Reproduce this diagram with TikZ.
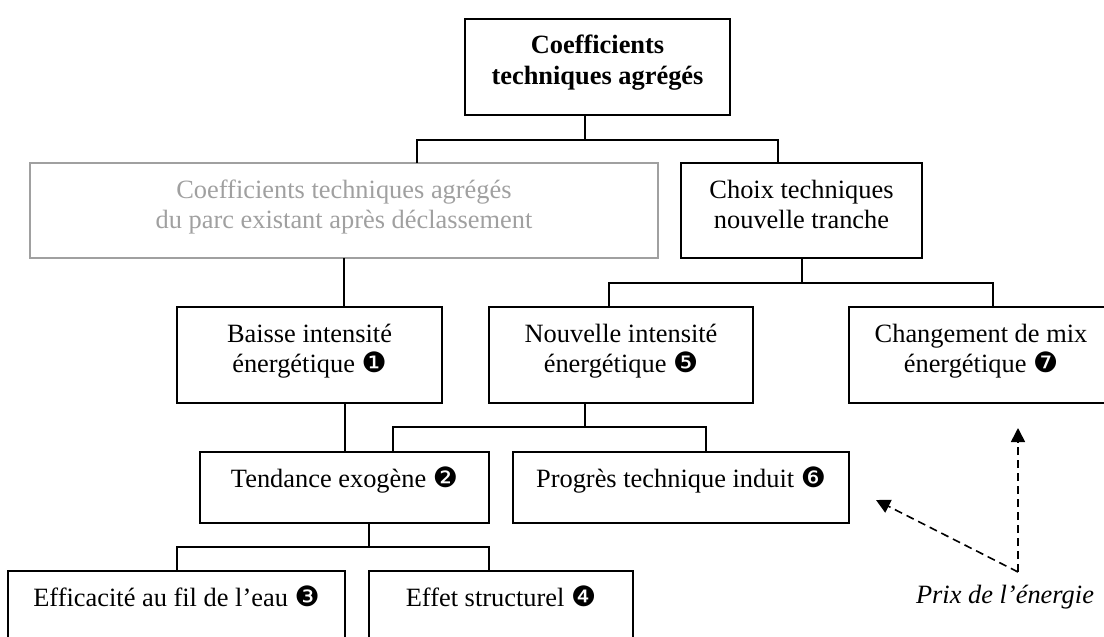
\documentclass[tikz,border=0pt]{standalone}
\usepackage{fontspec}
\setmainfont{Liberation Serif}
\newfontfamily\dingfont{DejaVu Sans}
\usetikzlibrary{fit,calc,arrows.meta}

\definecolor{parcgray}{RGB}{160,160,160}

\newcommand{\txtsize}{\fontsize{13.2}{15.2}\selectfont}
\newcommand{\nb}[1]{{\dingfont\fontsize{14}{14}\selectfont #1}}
\newcommand{\twolines}[2]{\begin{tabular}[t]{@{}c@{}}#1\\#2\end{tabular}}

\tikzset{
  box/.style={draw, line width=1pt, inner sep=0pt, outer sep=0pt},
  oldbox/.style={box, draw=parcgray},
  txt/.style={anchor=base, inner sep=0pt, yshift=-17.5pt, font=\txtsize},
  link/.style={line width=1pt},
  price/.style={line width=0.8pt, dash pattern=on 4pt off 2.5pt, -{Triangle[length=7pt,width=7pt]}}
}

\begin{document}
\begin{tikzpicture}[x=0.5pt, y=-0.5pt]
  \clip (0,0) rectangle (1104,637);

  % boxes
  \node[box, fit={(465,19) (730,115)}] (top) {};
  \node[oldbox, fit={(30,163) (658,258)}] (gray) {};
  \node[box, fit={(681,163) (922,258)}] (choix) {};
  \node[box, fit={(177,307) (442,403)}] (baisse) {};
  \node[box, fit={(489,307) (753,403)}] (nouv) {};
  \node[box, fit={(849,307) (1113,403)}] (mix) {};
  \node[box, fit={(200,452) (489,523)}] (tend) {};
  \node[box, fit={(513,452) (849,523)}] (prog) {};
  \node[box, fit={(8,571) (345,670)}] (eff) {};
  \node[box, fit={(369,571) (633,670)}] (struct) {};

  % texts
  \node[txt] (top-t) at (top.north) {\bfseries\twolines{Coefficients}{techniques agrégés}};
  \node[txt, text=parcgray] (gray-t) at (gray.north) {\twolines{Coefficients techniques agrégés}{du parc existant après déclassement}};
  \node[txt] (choix-t) at (choix.north) {\twolines{Choix techniques}{nouvelle tranche}};
  \node[txt] (baisse-t) at (baisse.north) {\twolines{Baisse intensité}{énergétique \nb{❶}}};
  \node[txt] (nouv-t) at (nouv.north) {\twolines{Nouvelle intensité}{énergétique \nb{❺}}};
  \node[txt] (mix-t) at (mix.north) {\twolines{Changement de mix}{énergétique \nb{❼}}};
  \node[txt] (tend-t) at (tend.north) {Tendance exogène \nb{❷}};
  \node[txt] (prog-t) at (prog.north) {Progrès technique induit \nb{❻}};
  \node[txt] (eff-t) at (eff.north) {Efficacité au fil de l’eau \nb{❸}};
  \node[txt] (struct-t) at (struct.north) {Effet structurel \nb{❹}};

  % tree
  \draw[link] ($(top.south)+(-12.5,0)$) -- ++(0,25);
  \draw[link] ($(gray.north)+(73,0)$) |- ($(choix.north)+(-23.5,-23)$) -- ($(choix.north)+(-23.5,0)$);
  \draw[link] (gray.south) -- (gray.south |- baisse.north);
  \draw[link] (choix.south) -- ++(0,25);
  \draw[link] ($(nouv.north)+(-12,0)$) |- ($(mix.north)+(12,-24)$) -- ($(mix.north)+(12,0)$);
  \draw[link] (tend.north |- baisse.south) -- (tend.north);
  \draw[link] ($(nouv.south)+(-36,0)$) -- ++(0,24);
  \draw[link] ($(tend.north)+(48.5,0)$) |- ($(prog.north)+(25,-25)$) -- ($(prog.north)+(25,0)$);
  \draw[link] ($(tend.south)+(24.5,0)$) -- ++(0,24);
  \draw[link] (eff.north) |- ($(struct.north)+(-12,-24)$) -- ($(struct.north)+(-12,0)$);

  % energy price
  \coordinate (src) at (1018,572);
  \coordinate (tipA) at (876,500);
  \coordinate (tipB) at (1018,428);
  \draw[price] (src) -- (tipA);
  \draw[price] (src) -- (tipB);
  \node[anchor=base, inner sep=0pt, font=\txtsize\itshape] (prix) at (1005,603) {Prix de l’énergie};
\end{tikzpicture}
\end{document}
